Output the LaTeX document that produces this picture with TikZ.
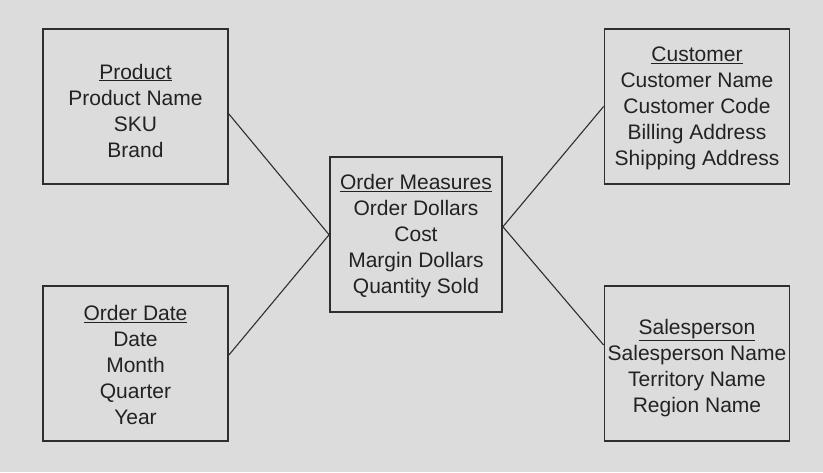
\documentclass[tikz,border=0pt]{standalone}
\usepackage{fontspec}
\setmainfont{Liberation Sans}
\definecolor{bgc}{HTML}{DCDCDC}
\definecolor{boxc}{HTML}{2E2E2E}
\definecolor{txtc}{HTML}{222222}
\begin{document}
\begin{tikzpicture}[x=1pt,y=-1pt,
  ent/.style={draw=boxc, line width=1.8pt, minimum width=185pt, minimum height=155pt, inner sep=0pt},
  etext/.style={inner sep=0pt, align=center, text=txtc, font=\fontsize{21}{26}\selectfont},
  link/.style={draw=boxc, line width=1.1pt}]
\fill[bgc] (0,0) rectangle (823,472);
\useasboundingbox (0,0) rectangle (823,472);
\node[ent] (prod) at (135.5,106.5) {};
\node[ent] (date) at (135.5,363.5) {};
\node[ent, minimum width=172pt] (meas) at (416,234.75) {};
\node[ent] (cust) at (697,106.5) {};
\node[ent] (sales) at (697,363.5) {};
\node[etext] (prodt) at ([yshift=-4pt]prod.center) {\underline{Product}\\Product Name\\SKU\\Brand};
\node[etext] (datet) at ([yshift=-1.5pt]date.center) {\underline{Order Date}\\Date\\Month\\Quarter\\Year};
\node[etext] (meast) at ([yshift=-1pt]meas.center) {\underline{Order Measures}\\Order Dollars\\Cost\\Margin Dollars\\Quantity Sold};
\node[etext] (custt) at ([yshift=-2pt]cust.center) {\underline{Customer}\\Customer Name\\Customer Code\\Billing Address\\Shipping Address};
\node[etext] (salest) at ([yshift=-5pt]sales.center) {\underline{Salesperson}\\Salesperson Name\\Territory Name\\Region Name};
\draw[link] ([yshift=-7.5pt]prod.east) -- (meas.west);
\draw[link] ([yshift=8.5pt]date.east) -- (meas.west);
\draw[link] ([yshift=8pt]meas.east) -- (cust.west);
\draw[link] ([yshift=8pt]meas.east) -- ([yshift=18.5pt]sales.west);
\end{tikzpicture}
\end{document}
